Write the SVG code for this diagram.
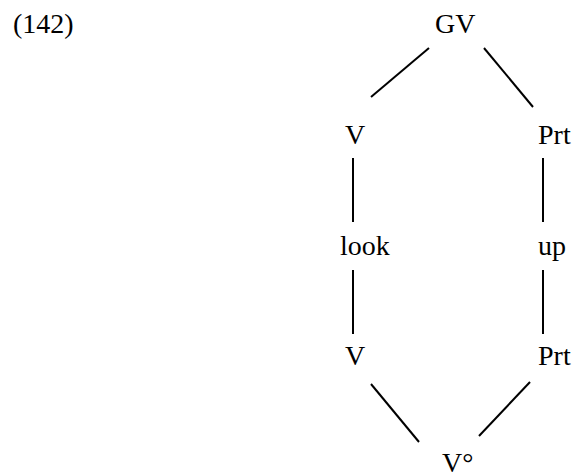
<svg xmlns="http://www.w3.org/2000/svg" width="578" height="475" viewBox="0 0 578 475">
<style>
text{font-family:"Liberation Serif","Times New Roman",serif;font-size:28px;fill:#000}
line{stroke:#000;stroke-width:2}
</style>
<rect width="578" height="475" fill="#fff"/>
<text x="13" y="33">(142)</text>
<g id="connectors">
<line x1="429" y1="48" x2="371" y2="97"/>
<line x1="484" y1="48" x2="533" y2="107"/>
<line x1="353" y1="158" x2="353" y2="222"/>
<line x1="543" y1="158" x2="543" y2="222"/>
<line x1="353" y1="270" x2="353" y2="334"/>
<line x1="543" y1="270" x2="543" y2="334"/>
<line x1="371" y1="384" x2="419" y2="442"/>
<line x1="530" y1="382" x2="479" y2="436"/>
</g>
<g id="GV"><text x="435" y="33">GV</text></g>
<g id="V1"><text x="345" y="144">V</text></g>
<g id="Prt1"><text x="538" y="144">Prt</text></g>
<g id="look"><text x="340" y="255">look</text></g>
<g id="up"><text x="538" y="255">up</text></g>
<g id="V2"><text x="345" y="365">V</text></g>
<g id="Prt2"><text x="538" y="365">Prt</text></g>
<g id="V0"><text x="442" y="472">V°</text></g>
</svg>
